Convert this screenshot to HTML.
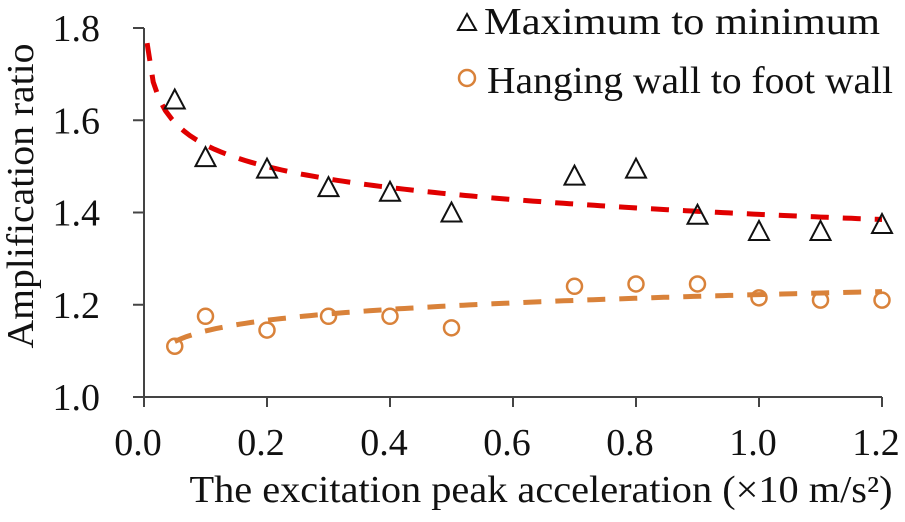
<!DOCTYPE html>
<html><head><meta charset="utf-8">
<style>
html,body{margin:0;padding:0;background:#fff;}
svg text{font-family:"Liberation Serif",serif;fill:#111;}
</style></head>
<body>
<svg id="chart" width="905" height="517" viewBox="0 0 905 517" xmlns="http://www.w3.org/2000/svg">
<g id="axes"></g>
<g id="fits"></g>
<g id="marks"></g>
<g id="legend">
  <g>
    <path d="M458,30 L467,14 L476,30 Z" fill="none" stroke="#111" stroke-width="2"/>
    <text x="484" y="34" font-size="38" textLength="396" lengthAdjust="spacingAndGlyphs">Maximum to minimum</text>
  </g>
  <g>
    <circle cx="467" cy="78" r="8" fill="none" stroke="#d9823a" stroke-width="2.5"/>
    <text x="487" y="93" font-size="38" textLength="406" lengthAdjust="spacingAndGlyphs">Hanging wall to foot wall</text>
  </g>
</g>
<text transform="translate(33,196) rotate(-90)" text-anchor="middle" font-size="38" textLength="305" lengthAdjust="spacingAndGlyphs">Amplification ratio</text>
<text x="541" y="502" text-anchor="middle" font-size="38" textLength="703" lengthAdjust="spacingAndGlyphs">The excitation peak acceleration (×10 m/s²)</text>
</svg>
<script>
const xCats = [0.05, 0.1, 0.2, 0.3, 0.4, 0.5, 0.7, 0.8, 0.9, 1.0, 1.1, 1.2];
const maxToMin = [1.645, 1.52, 1.495, 1.455, 1.445, 1.40, 1.48, 1.495, 1.395, 1.36, 1.36, 1.375];
const hangToFoot = [1.11, 1.175, 1.145, 1.175, 1.175, 1.15, 1.24, 1.245, 1.245, 1.215, 1.21, 1.21];
const xTicks = [0, 0.2, 0.4, 0.6, 0.8, 1.0, 1.2];
const xTickLabels = ["0.0","0.2","0.4","0.6","0.8","1.0","1.2"];
const yTicks = [1.0, 1.2, 1.4, 1.6, 1.8];
const yTickLabels = ["1.0","1.2","1.4","1.6","1.8"];
const redFit = [1.396, -0.0445];
const orangeFit = [1.222, 0.029];

const NS = "http://www.w3.org/2000/svg";
const X0 = 144, X1 = 882, Y0 = 397, Y1 = 28;
const xS = v => X0 + (v - 0) / 1.2 * (X1 - X0);
const yS = v => Y0 - (v - 1.0) / 0.8 * (Y0 - Y1);
function mk(tag, attrs, parent){const e=document.createElementNS(NS,tag);for(const k in attrs)e.setAttribute(k,attrs[k]);parent.appendChild(e);return e;}

const axes = document.getElementById('axes');
let l = mk('line',{x1:X0-11,y1:Y0,x2:X1,y2:Y0,stroke:'#444','stroke-width':2},axes);


l = mk('line',{x1:X0,y1:Y0+10,x2:X0,y2:Y1,stroke:'#444','stroke-width':2},axes);


xTicks.forEach((t,i)=>{
  const x=xS(t);
  const tk=mk('line',{x1:x,y1:Y0,x2:x,y2:Y0+10,stroke:'#444','stroke-width':2},axes);
  
  
  const tx=mk('text',{x:x-6,y:455,'text-anchor':'middle','font-size':38},axes);
  tx.textContent=xTickLabels[i];
  
  
});
yTicks.forEach((t,i)=>{
  const y=yS(t);
  const tk=mk('line',{x1:X0-11,y1:y,x2:X0,y2:y,stroke:'#444','stroke-width':2},axes);
  
  
  const tx=mk('text',{x:100,y:y+13,'text-anchor':'end','font-size':38},axes);
  tx.textContent=yTickLabels[i];
  
  
});

const fits = document.getElementById('fits');
function fitPath(c, xa, xb){
  let d=''; const n=120;
  for(let i=0;i<=n;i++){const x=xa+(xb-xa)*i/n;const y=c[0]*Math.pow(x,c[1]);d+=(i?'L':'M')+xS(x).toFixed(1)+','+yS(y).toFixed(1);}
  return d;
}
let p = mk('path',{d:fitPath(redFit,0.005,1.2),fill:'none',stroke:'#e00000','stroke-width':5,'stroke-dasharray':'18,14'},fits);


p = mk('path',{d:fitPath(orangeFit,0.05,1.2),fill:'none',stroke:'#d9823a','stroke-width':5,'stroke-dasharray':'18,14'},fits);



const marks = document.getElementById('marks');
xCats.forEach((x,i)=>{
  const cx=xS(x), cy=yS(maxToMin[i]);
  const t=mk('path',{d:`M${cx-10},${cy+9} L${cx},${cy-10} L${cx+10},${cy+9} Z`,fill:'none',stroke:'#111','stroke-width':2},marks);
  
  
  const c=mk('circle',{cx:cx,cy:yS(hangToFoot[i]),r:7.5,fill:'none',stroke:'#d9823a','stroke-width':2.5},marks);
  
  
});
</script>
</body></html>
